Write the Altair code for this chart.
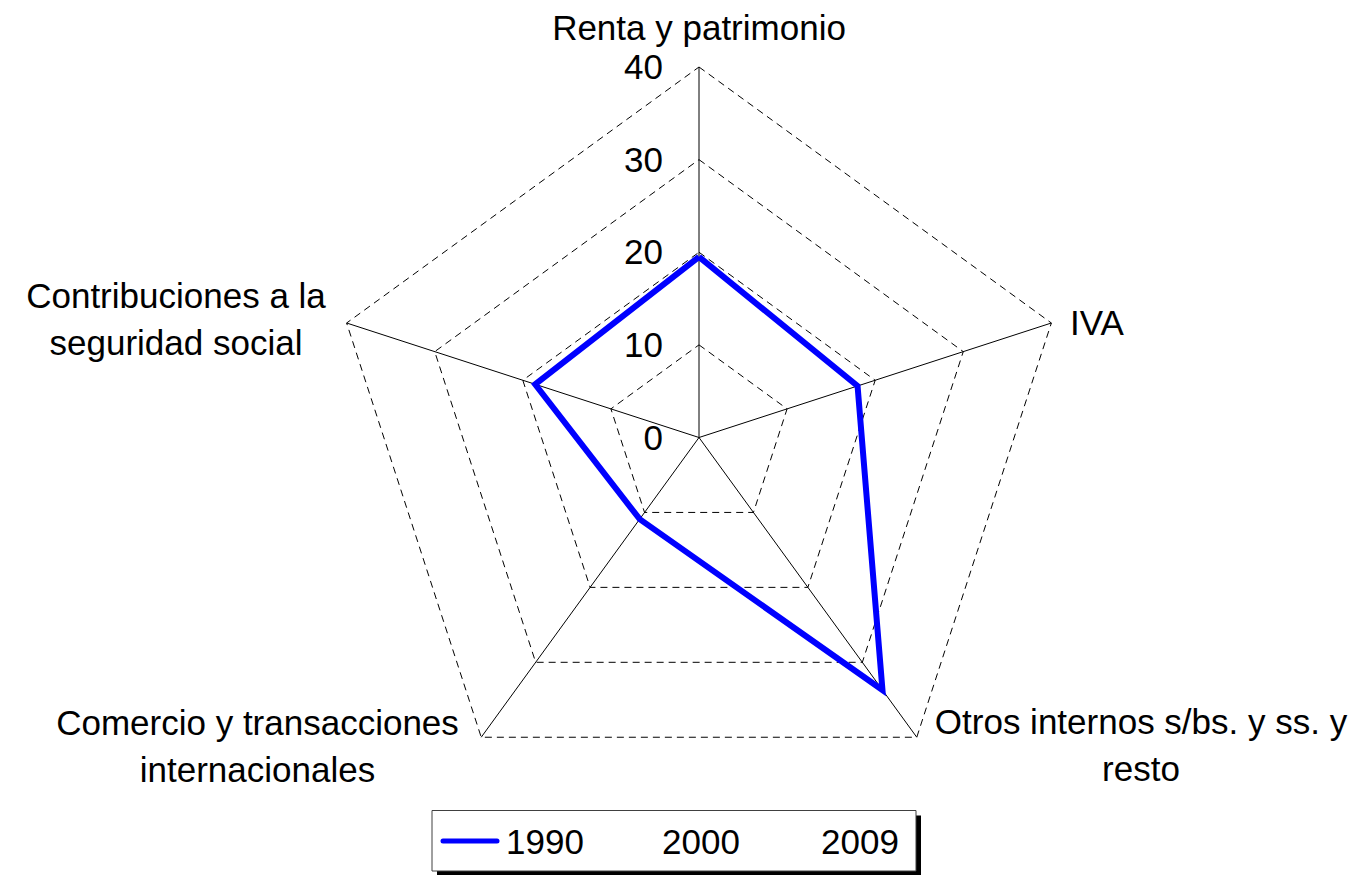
import math
import altair as alt
import pandas as pd

# ---------------- data ----------------
categories = [
    "Renta y patrimonio",
    "IVA",
    "Otros internos s/bs. y ss. y resto",
    "Comercio y transacciones internacionales",
    "Contribuciones a la seguridad social",
]
label_text = [
    "Renta y patrimonio",
    "IVA",
    "Otros internos s/bs. y ss. y\nresto",
    "Comercio y transacciones\ninternacionales",
    "Contribuciones a la\nseguridad social",
]
series = ["1990", "2000", "2009"]
values_1990 = [19.5, 18.0, 33.7, 10.9, 18.6]
ticks = [0, 10, 20, 30, 40]

# ---------------- layout ----------------
W, H = 1341, 867
CX, CY = 691.0, 429.5          # centre of radar in plot pixels
PX_PER_UNIT = 370.5 / 40.0
xmin = -CX / PX_PER_UNIT
xmax = (W - CX) / PX_PER_UNIT
ymax = CY / PX_PER_UNIT
ymin = -(H - CY) / PX_PER_UNIT
FONT = "Liberation Sans"
FS = 35

xs = alt.Scale(domain=[xmin, xmax], nice=False, zero=False)
ys = alt.Scale(domain=[ymin, ymax], nice=False, zero=False)

n = len(categories)
angles = [math.radians(90 - 360.0 / n * i) for i in range(n)]

# polygon of the 1990 series
poly = pd.DataFrame([
    {"order": k, "x": values_1990[k % n] * math.cos(angles[k % n]),
     "y": values_1990[k % n] * math.sin(angles[k % n]), "serie": series[0]}
    for k in range(n + 1)
])

# grid polygons
grid = pd.DataFrame([
    {"level": lv, "order": k, "x": lv * math.cos(angles[k % n]), "y": lv * math.sin(angles[k % n])}
    for lv in ticks[1:] for k in range(n + 1)
])

# spokes
spokes = pd.DataFrame([
    {"x": 0.0, "y": 0.0, "x2": ticks[-1] * math.cos(a), "y2": ticks[-1] * math.sin(a)}
    for a in angles
])

tickdf = pd.DataFrame({"v": ticks, "lab": [str(t) for t in ticks], "x0": [0.0] * len(ticks)})

X = lambda f: alt.X(f, type="quantitative", scale=xs, axis=None)
Y = lambda f: alt.Y(f, type="quantitative", scale=ys, axis=None)

grid_layer = alt.Chart(grid).mark_line(
    color="black", strokeWidth=1, strokeDash=[7, 5]
).encode(x=X("x"), y=Y("y"), detail="level:N", order="order:Q")

spoke_layer = alt.Chart(spokes).mark_rule(color="black", strokeWidth=1).encode(
    x=X("x"), y=Y("y"), x2="x2:Q", y2="y2:Q"
)

tick_layer = alt.Chart(tickdf).mark_text(
    align="right", baseline="alphabetic", dx=-36, dy=12, font=FONT, fontSize=FS, color="black"
).encode(x=X("x0"), y=Y("v"), text="lab:N")

line_layer = alt.Chart(poly).mark_line(
    color="#0000FF", strokeWidth=6, strokeJoin="miter"
).encode(x=X("x"), y=Y("y"), order="order:Q")

one = pd.DataFrame({"a": [0]})

def txt(s, x, y, align):
    return alt.Chart(one).mark_text(
        text=s, align=align, baseline="alphabetic", font=FONT, fontSize=FS,
        lineBreak="\n", lineHeight=47, color="black"
    ).encode(x=alt.value(x), y=alt.value(y))

labels = [
    txt(label_text[0], 691, 32, "center"),
    txt(label_text[1], 1062, 327, "left"),
    txt(label_text[2], 1133, 726, "center"),
    txt(label_text[3], 249.5, 727, "center"),
    txt(label_text[4], 168, 300, "center"),
]

# legend (box with shadow)
LX0, LX1, LY0, LY1 = 424, 908, 802.5, 863
shadow = alt.Chart(one).mark_rect(color="black").encode(
    x=alt.value(LX0 + 5), x2=alt.value(LX1 + 5), y=alt.value(LY0 + 5), y2=alt.value(LY1 + 5)
)
box = alt.Chart(one).mark_rect(fill="white", stroke="#404040", strokeWidth=1).encode(
    x=alt.value(LX0), x2=alt.value(LX1), y=alt.value(LY0), y2=alt.value(LY1)
)
leg_line = alt.Chart(one).mark_rule(color="#0000FF", strokeWidth=5, strokeCap="round").encode(
    x=alt.value(435), x2=alt.value(489), y=alt.value(833)
)
leg_texts = [
    alt.Chart(one).mark_text(text=s, align="left", baseline="alphabetic", font=FONT,
                             fontSize=FS, color="black").encode(x=alt.value(px), y=alt.value(846))
    for s, px in zip(series, [498, 654, 813])
]

chart = alt.layer(
    grid_layer, spoke_layer, line_layer, tick_layer, *labels,
    shadow, box, leg_line, *leg_texts
).properties(
    width=W, height=H, autosize=alt.AutoSizeParams(type="none"), padding=0
).configure_view(stroke=None)

chart.save("out.html", embed_options={"renderer": "svg", "actions": False})
